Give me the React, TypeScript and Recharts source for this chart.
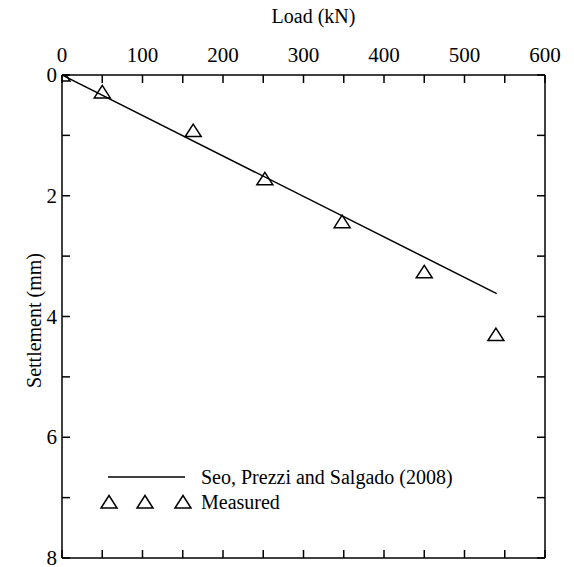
import { ComposedChart, XAxis, YAxis, Scatter, Line, Customized } from "recharts";

const measuredLoad = [0, 50, 163, 252, 348, 450, 539];
const measuredSettlement = [0, 0.28, 0.92, 1.72, 2.43, 3.26, 4.3];
const predictedLoad = [0, 540];
const predictedSettlement = [0, 3.62];
const loadTicks = [0, 50, 100, 150, 200, 250, 300, 350, 400, 450, 500, 550, 600];
const settlementTicks = [0, 1, 2, 3, 4, 5, 6, 7, 8];
const seriesNames = ["Seo, Prezzi and Salgado (2008)", "Measured"];

const measured = measuredLoad.map((load, i) => ({ load, settle: measuredSettlement[i] }));
const predicted = predictedLoad.map((load, i) => ({ load, settle: predictedSettlement[i] }));

const FONT = "'Liberation Serif', 'Times New Roman', 'DejaVu Serif', serif";
const TICK = 8;

const triangle = (cx: number, cy: number) =>
  `M${cx},${cy - 6.5} L${cx + 8},${cy + 6} L${cx - 8},${cy + 6} Z`;

const Marker = (props: any) => (
  <path d={triangle(props.cx, props.cy)} fill="none" stroke="#000" strokeWidth={1.5} />
);

const TopTick = ({ x, y, payload }: any) => (
  <g>
    <line x1={x} y1={y} x2={x} y2={y + TICK} stroke="#000" strokeWidth={1.5} />
    {payload.value % 100 === 0 && (
      <text x={x} y={y - 13} textAnchor="middle" style={{ fontFamily: FONT, fontSize: 21 }} fill="#000">
        {payload.value}
      </text>
    )}
  </g>
);

const BottomTick = ({ x, y }: any) => (
  <line x1={x} y1={y} x2={x} y2={y - TICK} stroke="#000" strokeWidth={1.5} />
);

const LeftTick = ({ x, y, payload }: any) => (
  <g>
    <line x1={x} y1={y} x2={x + TICK} y2={y} stroke="#000" strokeWidth={1.5} />
    {payload.value % 2 === 0 && (
      <text x={x - 5} y={y + 7} textAnchor="end" style={{ fontFamily: FONT, fontSize: 21 }} fill="#000">
        {payload.value}
      </text>
    )}
  </g>
);

const RightTick = ({ x, y }: any) => (
  <line x1={x} y1={y} x2={x - TICK} y2={y} stroke="#000" strokeWidth={1.5} />
);

const ChartLegend = () => (
  <g style={{ fontFamily: FONT, fontSize: 20 }} fill="#000">
    <line x1={108} y1={477} x2={185} y2={477} stroke="#000" strokeWidth={1.5} />
    <text x={201} y={484}>{seriesNames[0]}</text>
    {[109, 145, 183].map((cx) => (
      <path key={cx} d={triangle(cx, 502)} fill="none" stroke="#000" strokeWidth={1.5} />
    ))}
    <text x={201} y={509}>{seriesNames[1]}</text>
  </g>
);

export default function App() {
  return (
    <div style={{ position: "fixed", left: 0, top: 0, background: "#fff" }}>
      <ComposedChart width={574} height={567} margin={{ top: 0, right: 0, bottom: 0, left: 0 }}>
        <XAxis
          xAxisId="t"
          orientation="top"
          type="number"
          dataKey="load"
          domain={[0, 600]}
          ticks={loadTicks}
          interval={0}
          height={75}
          tickSize={0}
          tickMargin={0}
          tickLine={false}
          tick={<TopTick />}
          axisLine={{ stroke: "#000", strokeWidth: 1.5 }}
          allowDataOverflow
          label={{
            value: "Load (kN)",
            position: "insideTop",
            offset: 9,
            dx: 10,
            style: { fontFamily: FONT, fontSize: 20, fill: "#000" },
          }}
        />
        <XAxis
          xAxisId="b"
          orientation="bottom"
          type="number"
          dataKey="load"
          domain={[0, 600]}
          ticks={loadTicks}
          interval={0}
          height={9}
          tickSize={0}
          tickMargin={0}
          tickLine={false}
          tick={<BottomTick />}
          axisLine={{ stroke: "#000", strokeWidth: 1.5 }}
          allowDataOverflow
        />
        <YAxis
          yAxisId="l"
          orientation="left"
          type="number"
          dataKey="settle"
          reversed
          domain={[0, 8]}
          ticks={settlementTicks}
          interval={0}
          width={62}
          tickSize={0}
          tickMargin={0}
          tickLine={false}
          tick={<LeftTick />}
          axisLine={{ stroke: "#000", strokeWidth: 1.5 }}
          allowDataOverflow
          label={{
            value: "Settlement (mm)",
            angle: -90,
            position: "insideLeft",
            offset: 34,
            dy: 4,
            style: { fontFamily: FONT, fontSize: 20, fill: "#000", textAnchor: "middle" },
          }}
        />
        <YAxis
          yAxisId="r"
          orientation="right"
          type="number"
          dataKey="settle"
          reversed
          domain={[0, 8]}
          ticks={settlementTicks}
          interval={0}
          width={29}
          tickSize={0}
          tickMargin={0}
          tickLine={false}
          tick={<RightTick />}
          axisLine={{ stroke: "#000", strokeWidth: 1.5 }}
          allowDataOverflow
        />
        <Line
          xAxisId="b"
          yAxisId="r"
          data={predicted}
          dataKey="settle"
          name={seriesNames[0]}
          type="linear"
          stroke="#000"
          strokeWidth={1.5}
          dot={false}
          isAnimationActive={false}
        />
        <Scatter
          xAxisId="t"
          yAxisId="l"
          data={measured}
          dataKey="settle"
          name={seriesNames[1]}
          shape={<Marker />}
          isAnimationActive={false}
        />
        <Customized component={<ChartLegend />} />
      </ComposedChart>
    </div>
  );
}
